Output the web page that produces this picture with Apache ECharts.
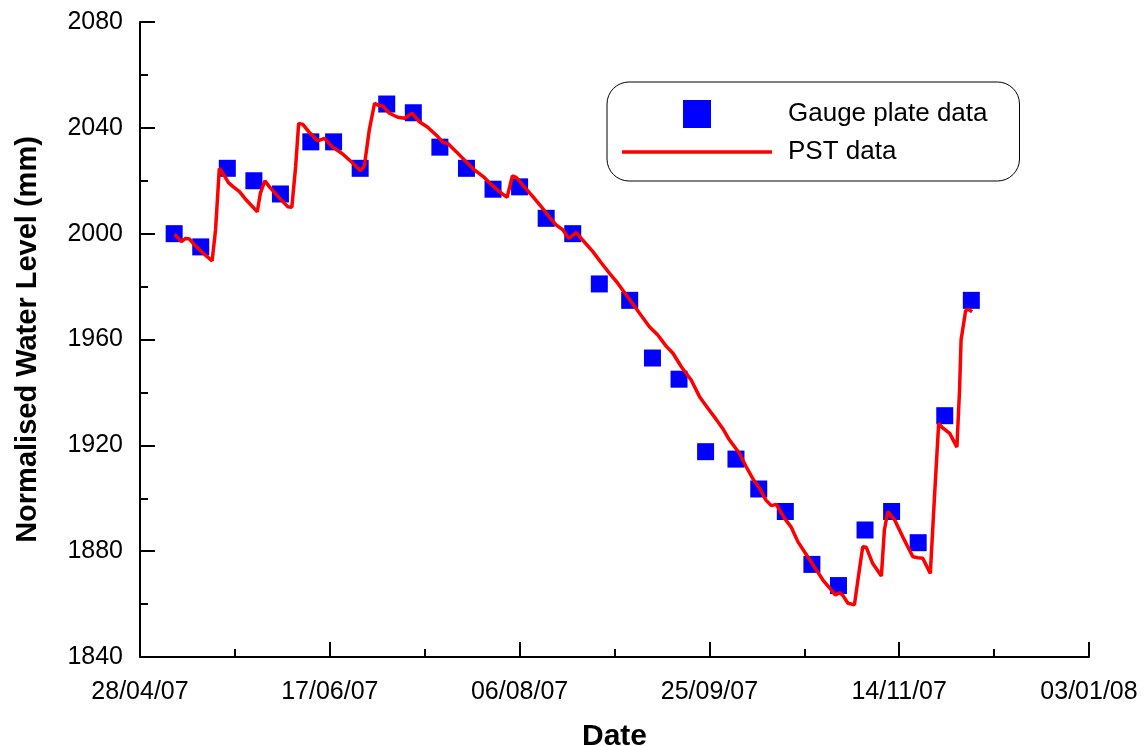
<!DOCTYPE html>
<html>
<head>
<meta charset="utf-8">
<script src="https://cdn.jsdelivr.net/npm/echarts@6/dist/echarts.min.js"></script>
<style>
html,body{margin:0;padding:0;background:#fff;}
#chart{width:1148px;height:746px;}
</style>
</head>
<body>
<div id="chart"></div>
<script>
// Start of x axis: 28/04/07 (day 0)
const startDate = '2007-04-28';
const xTickLabels = ['28/04/07', '17/06/07', '06/08/07', '25/09/07', '14/11/07', '03/01/08'];

// Gauge plate readings (weekly)
const gaugeDates = [
  '2007-05-07','2007-05-14','2007-05-21','2007-05-28','2007-06-04','2007-06-12','2007-06-18',
  '2007-06-25','2007-07-02','2007-07-09','2007-07-16','2007-07-23','2007-07-30','2007-08-06',
  '2007-08-13','2007-08-20','2007-08-27','2007-09-04','2007-09-10','2007-09-17','2007-09-24',
  '2007-10-02','2007-10-08','2007-10-15','2007-10-22','2007-10-29','2007-11-05','2007-11-12',
  '2007-11-19','2007-11-26','2007-12-03'
];
const gaugeValues = [
  2000, 1995, 2024.7, 2020, 2015, 2034.7, 2034.7,
  2024.7, 2049, 2045.7, 2032.7, 2024.7, 2016.8, 2017.7,
  2005.8, 2000, 1981, 1974.8, 1953, 1945, 1917.6,
  1914.8, 1903.5, 1895, 1875, 1867, 1888, 1895,
  1883.2, 1931.2, 1974.8
];

// PST logger trace: days since 28/04/07 and level (mm)
const pstDays = [
  9.1, 10.9, 12.0, 13.0, 14.4, 16.5, 19.0, 19.9, 20.9, 22.1,
  23.3, 24.6, 26.2, 28.0, 30.9, 31.7, 32.9, 34.1, 36.3, 38.9,
  40.0, 41.0, 41.8, 42.9, 44.7, 46.8, 48.6, 50.6, 53.4, 56.1,
  58.1, 59.1, 60.4, 61.8, 62.6, 64.0, 65.7, 67.9, 69.7, 71.7,
  73.6, 75.8, 78.5, 79.8, 81.1, 83.3, 85.9, 88.1, 90.5, 92.5,
  94.7, 96.7, 98.1, 99.1, 100.8, 103.5, 105.7, 107.9, 109.6, 111.4,
  113.0, 114.9, 116.6, 119.3, 121.5, 123.7, 125.9, 128.1, 131.6, 134.2,
  136.4, 138.6, 140.4, 142.6, 145.2, 147.4, 149.6, 151.8, 153.5, 155.3,
  157.9, 159.7, 161.4, 163.2, 164.9, 166.3, 167.6, 169.8, 171.5, 173.3,
  175.9, 178.1, 179.9, 181.6, 183.2, 184.3, 185.1, 186.5, 188.2, 189.5,
  190.4, 191.3, 193.0, 195.3, 196.1, 197.0, 198.8, 200.9, 203.6, 204.9,
  206.2, 208.2, 209.3, 210.4, 211.3, 213.3, 215.2, 215.9, 216.3, 217.5,
  218.3, 219.2
];
const pstValues = [
  1999.8, 1997.0, 1998.2, 1998.0, 1995.7, 1992.8, 1989.7, 2001.4, 2024.7, 2022.2,
  2019.3, 2017.7, 2015.9, 2012.7, 2008.3, 2015.2, 2020.0, 2017.7, 2014.2, 2010.2,
  2010.0, 2025.3, 2041.7, 2041.3, 2038.1, 2035.1, 2036.0, 2032.9, 2030.1, 2026.6,
  2023.8, 2025.6, 2039.2, 2049.3, 2048.6, 2048.2, 2045.5, 2044.0, 2043.6, 2045.5,
  2042.3, 2040.2, 2036.6, 2034.5, 2034.1, 2031.0, 2027.2, 2024.1, 2021.5, 2018.6,
  2015.9, 2013.7, 2021.8, 2021.3, 2018.4, 2014.0, 2010.2, 2006.2, 2003.3, 2001.4,
  1998.2, 2000.4, 1997.6, 1993.2, 1989.0, 1985.0, 1981.2, 1976.8, 1969.9, 1964.8,
  1961.7, 1957.5, 1954.8, 1949.7, 1944.7, 1938.4, 1934.0, 1929.8, 1926.4, 1922.0,
  1917.0, 1911.9, 1907.5, 1903.8, 1899.3, 1897.2, 1897.7, 1892.4, 1889.2, 1883.6,
  1877.9, 1873.1, 1869.1, 1866.2, 1863.4, 1864.3, 1863.4, 1860.3, 1859.7, 1872.9,
  1881.7, 1881.5, 1875.4, 1870.6, 1888.0, 1894.9, 1891.8, 1885.5, 1877.9, 1877.5,
  1877.3, 1871.6, 1900.6, 1928.3, 1926.8, 1924.5, 1919.3, 1940.9, 1959.8, 1970.9,
  1971.4, 1970.5
];

const DAY = 86400000;
const t0 = Date.parse(startDate + 'T00:00:00Z');
const dayOf = s => (Date.parse(s + 'T00:00:00Z') - t0) / DAY;

const gaugeData = gaugeDates.map((d, i) => [dayOf(d), gaugeValues[i]]);
const pstData = pstDays.map((d, i) => [d, pstValues[i]]);

const FONT = "'Liberation Sans', Arial, sans-serif";

const chart = echarts.init(document.getElementById('chart'), null, {renderer: 'canvas'});
chart.setOption({
  animation: false,
  backgroundColor: '#ffffff',
  grid: {left: 140, right: 59, top: 22, bottom: 89, containLabel: false, outerBoundsMode: 'none'},
  legend: {
    orient: 'vertical',
    left: 607,
    top: 82,
    padding: [18, 32, 16, 15],
    itemWidth: 150,
    itemHeight: 28,
    itemGap: 11,
    symbolKeepAspect: true,
    borderColor: '#000',
    borderWidth: 1,
    borderRadius: 22,
    backgroundColor: '#fff',
    textStyle: {fontFamily: FONT, fontSize: 26, color: '#000', padding: [0, 0, 0, 11]},
    data: [
      {name: 'Gauge plate data', icon: 'path://M0,0H10V10H0Z'},
      {name: 'PST data', icon: 'path://M0,0H150V3.5H0Z'}
    ]
  },
  xAxis: {
    type: 'value',
    min: 0,
    max: 250,
    interval: 50,
    name: 'Date',
    nameLocation: 'middle',
    nameGap: 65,
    nameTextStyle: {fontFamily: FONT, fontSize: 30, fontWeight: 'bold', color: '#000'},
    axisLine: {show: true, lineStyle: {color: '#000', width: 2}},
    axisTick: {show: true, inside: true, length: 15, lineStyle: {color: '#000', width: 2}},
    minorTick: {show: true, splitNumber: 2, length: 8, lineStyle: {color: '#000', width: 2}},
    splitLine: {show: false},
    axisLabel: {
      fontFamily: FONT, fontSize: 25, color: '#000', margin: 23,
      formatter: v => xTickLabels[Math.round(v / 50)] || ''
    }
  },
  yAxis: {
    type: 'value',
    min: 1840,
    max: 2080,
    interval: 40,
    name: 'Normalised Water Level (mm)',
    nameLocation: 'middle',
    nameGap: 98,
    nameTextStyle: {fontFamily: FONT, fontSize: 29, fontWeight: 'bold', color: '#000'},
    axisLine: {show: true, lineStyle: {color: '#000', width: 2}},
    axisTick: {show: true, inside: true, length: 15, lineStyle: {color: '#000', width: 2}},
    minorTick: {show: true, splitNumber: 2, length: 8, lineStyle: {color: '#000', width: 2}},
    splitLine: {show: false},
    axisLabel: {fontFamily: FONT, fontSize: 25, color: '#000', margin: 17, formatter: v => String(v)}
  },
  series: [
    {
      name: 'Gauge plate data',
      type: 'scatter',
      symbol: 'rect',
      symbolSize: 17,
      itemStyle: {color: '#0000ff', opacity: 1},
      data: gaugeData,
      z: 2
    },
    {
      name: 'PST data',
      type: 'line',
      showSymbol: false,
      symbol: 'none',
      lineStyle: {color: '#ff0000', width: 3.5},
      itemStyle: {color: '#ff0000'},
      data: pstData,
      z: 3
    }
  ]
});
</script>
</body>
</html>
